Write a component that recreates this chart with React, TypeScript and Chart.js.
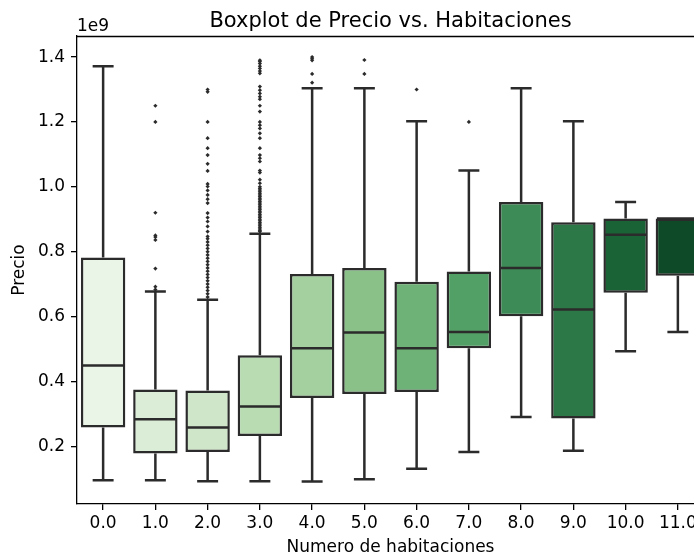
import React, { useEffect, useRef } from "react";
import { Chart, registerables } from "chart.js";

Chart.register(...registerables);

const categories = ["0.0", "1.0", "2.0", "3.0", "4.0", "5.0", "6.0", "7.0", "8.0", "9.0", "10.0", "11.0"];
const whiskerLow = [0.095, 0.095, 0.092, 0.092, 0.091, 0.098, 0.131, 0.182, 0.29, 0.186, 0.493, 0.552];
const q1 = [0.258, 0.178, 0.182, 0.232, 0.349, 0.361, 0.367, 0.502, 0.601, 0.286, 0.673, 0.726];
const median = [0.449, 0.283, 0.258, 0.323, 0.502, 0.551, 0.502, 0.552, 0.75, 0.622, 0.852, 0.902];
const q3 = [0.782, 0.375, 0.372, 0.481, 0.731, 0.75, 0.707, 0.739, 0.953, 0.891, 0.902, 0.902];
const whiskerHigh = [1.372, 0.677, 0.652, 0.855, 1.304, 1.304, 1.202, 1.05, 1.304, 1.202, 0.953, 0.902];

const outliers0: number[] = [];
const outliers1 = [1.25, 1.2, 0.92, 0.85, 0.845, 0.836, 0.748, 0.692, 0.683];
const outliers2 = [
  1.3, 1.293, 1.2, 1.15, 1.119, 1.098, 1.071, 1.049, 1.009, 1.001, 0.989, 0.975, 0.962, 0.95, 0.919,
  0.905, 0.893, 0.878, 0.862, 0.847, 0.84, 0.83, 0.82, 0.81, 0.8, 0.79, 0.78, 0.77, 0.76, 0.75, 0.74,
  0.73, 0.72, 0.71, 0.7, 0.69, 0.68, 0.67, 0.66,
];
const outliers3 = [
  1.39, 1.386, 1.38, 1.372, 1.365, 1.357, 1.35, 1.309, 1.298, 1.288, 1.278, 1.27, 1.25, 1.232, 1.2,
  1.19, 1.18, 1.165, 1.15, 1.119, 1.098, 1.088, 1.078, 1.05, 1.044, 1.022, 1.011, 1.0, 0.995, 0.99,
  0.985, 0.98, 0.975, 0.97, 0.965, 0.96, 0.955, 0.95, 0.945, 0.94, 0.935, 0.93, 0.925, 0.92, 0.915,
  0.91, 0.905, 0.9, 0.895, 0.89, 0.885, 0.88, 0.875, 0.87, 0.865, 0.862,
];
const outliers4 = [1.4, 1.395, 1.39, 1.348, 1.321];
const outliers5 = [1.391, 1.348];
const outliers6 = [1.3];
const outliers7 = [1.2];
const outliersByCategory = [outliers0, outliers1, outliers2, outliers3, outliers4, outliers5, outliers6, outliers7, [], [], [], []];

const boxColors = [
  "#eaf5e7", "#dcedd7", "#cfe6c8", "#b9dcb2", "#a3d09e", "#89c189",
  "#6fb277", "#53a066", "#3d8b56", "#2d7847", "#1a6336", "#0e4a27",
];
const yTickValues = [0.2, 0.4, 0.6, 0.8, 1.0, 1.2, 1.4];

const titleText = "Boxplot de Precio vs. Habitaciones";
const xLabel = "Numero de habitaciones";
const yLabel = "Precio";
const offsetText = "1e9";

const LINE = "#2b2b2b";
const FONT = "'DejaVu Sans', sans-serif";
const LABEL_SIZE = 17;

const boxPlugin = {
  id: "boxExtras",
  afterDatasetsDraw(chart: any) {
    const ctx = chart.ctx;
    const y = chart.scales.y;
    const meta = chart.getDatasetMeta(0);
    ctx.save();
    ctx.strokeStyle = LINE;
    ctx.lineWidth = 2.5;
    ctx.lineCap = "butt";
    meta.data.forEach((el: any, i: number) => {
      const cx = el.x;
      const w = el.width - 2.5;
      const yq1 = y.getPixelForValue(q1[i]);
      const yq3 = y.getPixelForValue(q3[i]);
      const ylo = y.getPixelForValue(whiskerLow[i]);
      const yhi = y.getPixelForValue(whiskerHigh[i]);
      const ymed = y.getPixelForValue(median[i]);
      ctx.beginPath();
      ctx.moveTo(cx, yq1);
      ctx.lineTo(cx, ylo);
      ctx.moveTo(cx - w / 4, ylo);
      ctx.lineTo(cx + w / 4, ylo);
      ctx.moveTo(cx, yq3);
      ctx.lineTo(cx, yhi);
      ctx.moveTo(cx - w / 4, yhi);
      ctx.lineTo(cx + w / 4, yhi);
      ctx.moveTo(cx - w / 2, ymed);
      ctx.lineTo(cx + w / 2, ymed);
      ctx.stroke();
    });
    ctx.restore();
  },
  afterDraw(chart: any) {
    const ctx = chart.ctx;
    const a = chart.chartArea;
    ctx.save();
    ctx.strokeStyle = "#000";
    ctx.lineWidth = 1.3;
    ctx.beginPath();
    ctx.moveTo(a.left, a.top + 0.5);
    ctx.lineTo(a.right, a.top + 0.5);
    ctx.moveTo(a.right - 0.5, a.top);
    ctx.lineTo(a.right - 0.5, a.bottom);
    ctx.stroke();
    ctx.fillStyle = "#000";
    ctx.font = `21px ${FONT}`;
    ctx.textAlign = "center";
    ctx.textBaseline = "alphabetic";
    ctx.fillText(titleText, (a.left + a.right) / 2, a.top - 9);
    ctx.font = `${LABEL_SIZE}px ${FONT}`;
    ctx.textAlign = "left";
    ctx.fillText(offsetText, a.left, a.top - 5);
    ctx.restore();
  },
};

export default function App() {
  const ref = useRef<HTMLCanvasElement | null>(null);
  useEffect(() => {
    if (!ref.current) return;
    const outlierData: { x: string; y: number }[] = [];
    outliersByCategory.forEach((arr, i) => arr.forEach((v) => outlierData.push({ x: categories[i], y: v })));
    const chart = new Chart(ref.current, {
      type: "bar",
      data: {
        labels: categories,
        datasets: [
          {
            type: "bar",
            data: categories.map((_, i) => [q1[i], q3[i]]),
            backgroundColor: boxColors,
            borderColor: LINE,
            borderWidth: 2.5,
            borderSkipped: false,
            barPercentage: 0.85,
            categoryPercentage: 1,
            order: 2,
          } as any,
          {
            type: "line",
            data: outlierData as any,
            showLine: false,
            pointStyle: "rectRot",
            pointRadius: 2.1,
            pointBackgroundColor: LINE,
            pointBorderWidth: 0,
            pointBorderColor: LINE,
            order: 1,
          } as any,
        ],
      },
      options: {
        responsive: false,
        animation: false,
        devicePixelRatio: 1,
        layout: { padding: { top: 36, right: 16, left: 0, bottom: 0 } },
        plugins: { legend: { display: false }, tooltip: { enabled: false } },
        scales: {
          x: {
            type: "category",
            offset: true,
            grid: { display: true, offset: false, drawOnChartArea: false, drawTicks: true, tickLength: 6, tickColor: "#000", lineWidth: 1.3 },
            border: { display: true, color: "#000", width: 1.3 },
            ticks: { color: "#000", font: { family: FONT, size: LABEL_SIZE }, padding: 3, maxRotation: 0, autoSkip: false },
            title: { display: true, text: xLabel, color: "#000", font: { family: FONT, size: LABEL_SIZE }, padding: { top: 0, bottom: 2 } },
            afterFit: (s: any) => {
              s.height = 56;
            },
          },
          y: {
            type: "linear",
            min: 0.022,
            max: 1.465,
            grid: { display: true, drawOnChartArea: false, drawTicks: true, tickLength: 6, tickColor: "#000", lineWidth: 1.3 },
            border: { display: true, color: "#000", width: 1.3 },
            ticks: {
              color: "#000",
              font: { family: FONT, size: LABEL_SIZE },
              padding: 6,
              callback: (v: any) => Number(v).toFixed(1),
            },
            afterBuildTicks: (s: any) => {
              s.ticks = yTickValues.map((v) => ({ value: v }));
            },
            title: { display: true, text: yLabel, color: "#000", font: { family: FONT, size: LABEL_SIZE }, padding: { top: 9, bottom: 0 } },
            afterFit: (s: any) => {
              s.width = 77;
            },
          },
        },
      },
      plugins: [boxPlugin],
    });
    return () => chart.destroy();
  }, []);
  return (
    <div style={{ position: "fixed", left: 0, top: 0, width: 694, height: 560, overflow: "hidden", background: "#fff" }}>
      <canvas ref={ref} width={720} height={560} style={{ display: "block" }} />
    </div>
  );
}
